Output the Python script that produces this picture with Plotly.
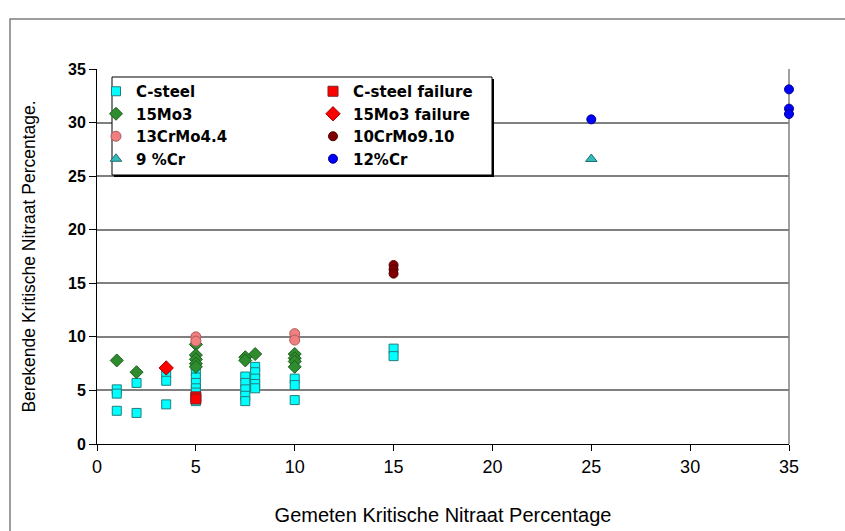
import plotly.graph_objects as go

# Measured (x) vs calculated (y) critical nitrate percentage per steel grade
csteel_x = [1, 1, 1, 2, 2, 3.5, 3.5, 3.5,
            5, 5, 5, 5, 5, 5, 5,
            7.5, 7.5, 7.5, 7.5, 7.5,
            8, 8, 8, 8, 8,
            10, 10, 10, 15, 15]
csteel_y = [5.1, 4.7, 3.1, 5.7, 2.9, 6.6, 5.9, 3.7,
            7.3, 6.8, 6.2, 5.7, 5.2, 4.8, 4.0,
            6.3, 5.7, 5.1, 4.5, 4.0,
            7.2, 6.7, 6.1, 5.6, 5.2,
            6.1, 5.5, 4.1, 8.9, 8.2]

csteel_fail_x = [5, 5]
csteel_fail_y = [4.4, 4.2]

mo3_x = [1, 2, 5, 5, 5, 5, 5, 7.5, 7.5, 8, 10, 10, 10, 10]
mo3_y = [7.8, 6.7, 9.3, 8.3, 7.9, 7.5, 7.2, 8.1, 7.8, 8.4, 8.4, 8.0, 7.7, 7.2]

mo3_fail_x = [3.5]
mo3_fail_y = [7.1]

crmo44_x = [5, 5, 10, 10]
crmo44_y = [10.0, 9.6, 10.3, 9.7]

crmo910_x = [15, 15, 15]
crmo910_y = [16.7, 16.3, 15.9]

cr9_x = [25]
cr9_y = [26.6]

cr12_x = [25, 35, 35, 35]
cr12_y = [30.3, 33.1, 31.3, 30.8]

x_ticks = [0, 5, 10, 15, 20, 25, 30, 35]
y_ticks = [0, 5, 10, 15, 20, 25, 30, 35]

fig = go.Figure()


def add(name, xs, ys, symbol, fill, edge, size, legend):
    fig.add_trace(go.Scatter(
        x=xs, y=ys, mode="markers", name=name, legend=legend,
        cliponaxis=False,
        marker=dict(symbol=symbol, size=size, color=fill,
                    line=dict(color=edge, width=1)),
    ))


add("C-steel", csteel_x, csteel_y, "square", "#00FFFF", "#1F7F7F", 9, "legend")
add("15Mo3", mo3_x, mo3_y, "diamond", "#2E8B2E", "#1E5E1E", 10, "legend")
add("13CrMo4.4", crmo44_x, crmo44_y, "circle", "#F08080", "#B05A5A", 10, "legend")
add("9 %Cr", cr9_x, cr9_y, "triangle-up", "#33BBBB", "#1F6F6F", 10, "legend")
add("C-steel failure", csteel_fail_x, csteel_fail_y, "square", "#FF0000", "#802020", 10, "legend2")
add("15Mo3 failure", mo3_fail_x, mo3_fail_y, "diamond", "#FF0000", "#A00000", 11, "legend2")
add("10CrMo9.10", crmo910_x, crmo910_y, "circle", "#800000", "#500000", 9, "legend2")
add("12%Cr", cr12_x, cr12_y, "circle", "#0000FF", "#00008B", 9, "legend2")

# plot area spans x 97..789 px, y 69..444 px
W, H = 845, 531
L, R, T, B = 97, 56, 69, 87
pw, ph = W - L - R, H - T - B


def px(xp):
    return (xp - L) / pw


def py(yp):
    return (H - B - yp) / ph


legend_font = dict(family="DejaVu Sans, sans-serif", size=15,
                   color="black", weight="bold")
common_legend = dict(font=legend_font, bgcolor="rgba(0,0,0,0)",
                     borderwidth=0, xanchor="left", yanchor="top",
                     orientation="v", itemsizing="trace", tracegroupgap=0)

shapes = [
    # outer frame
    dict(type="rect", xref="paper", yref="paper", layer="below",
         x0=px(10), x1=px(852), y0=py(540), y1=py(19),
         line=dict(color="#7F7F7F", width=1.5), fillcolor="rgba(0,0,0,0)"),
    # right border of plot area
    dict(type="line", xref="paper", yref="paper", layer="below",
         x0=1, x1=1, y0=0, y1=1, line=dict(color="#808080", width=1.5)),
    # legend box shadow and box
    dict(type="rect", xref="paper", yref="paper", layer="above",
         x0=px(114), x1=px(494), y0=py(177), y1=py(79),
         line=dict(width=0), fillcolor="black"),
    dict(type="rect", xref="paper", yref="paper", layer="above",
         x0=px(112), x1=px(492), y0=py(175), y1=py(77),
         line=dict(color="black", width=1), fillcolor="white"),
]

fig.update_layout(
    width=W, height=H,
    margin=dict(l=L, r=R, t=T, b=B, autoexpand=False),
    paper_bgcolor="white", plot_bgcolor="white",
    font=dict(family="Liberation Sans, Arial, sans-serif", color="black"),
    shapes=shapes,
    legend=dict(x=px(96), y=py(75), **common_legend),
    legend2=dict(x=px(313), y=py(75), **common_legend),
    xaxis=dict(
        range=[0, 35], tickvals=x_ticks, ticktext=[str(v) for v in x_ticks],
        showgrid=False, zeroline=False, automargin=False,
        showline=True, linecolor="black", linewidth=1,
        ticks="outside", ticklen=6, tickcolor="black",
        tickfont=dict(family="Liberation Sans, Arial", size=18),
        title=dict(text="Gemeten Kritische Nitraat Percentage", standoff=32,
                   font=dict(family="Liberation Sans, Arial", size=20)),
    ),
    yaxis=dict(
        range=[0, 35], tickvals=y_ticks, ticktext=[str(v) for v in y_ticks],
        showgrid=True, gridcolor="#808080", gridwidth=1.5,
        zeroline=False, automargin=False,
        showline=True, linecolor="black", linewidth=1,
        ticks="outside", ticklen=7, tickcolor="black",
        tickfont=dict(family="Liberation Sans, Arial", size=16, weight="bold"),
        title=dict(text="Berekende Kritische Nitraat Percentage.", standoff=27,
                   font=dict(family="Liberation Sans, Arial", size=17.5)),
    ),
)

fig.write_html("out.html")
